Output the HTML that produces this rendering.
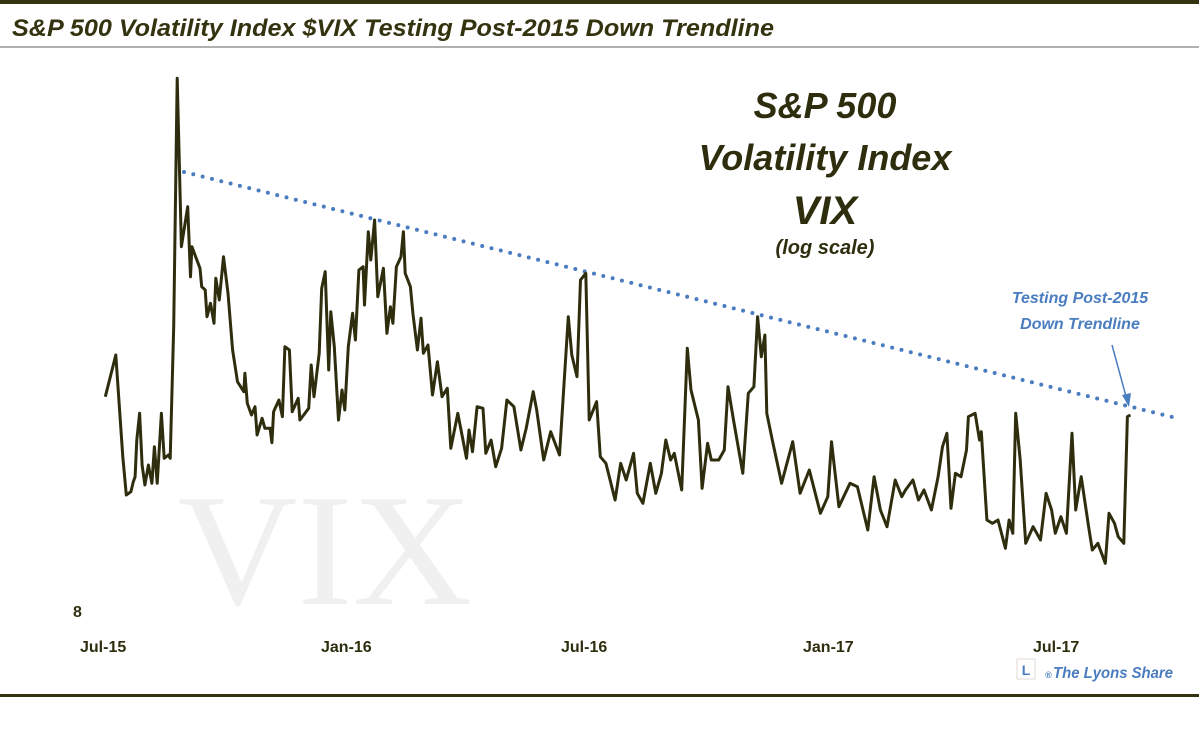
<!DOCTYPE html>
<html><head><meta charset="utf-8"><style>
html,body{margin:0;padding:0;background:#fff;}
svg{display:block;}
</style></head><body>
<svg id="s" width="1199" height="742" viewBox="0 0 1199 742" xmlns="http://www.w3.org/2000/svg" font-family="Liberation Sans, sans-serif">
<rect x="0" y="0" width="1199" height="742" fill="#fff"/>
<rect x="0" y="0" width="1199" height="4" fill="#33330f"/>
<text x="12" y="36" font-size="24" font-weight="bold" font-style="italic" fill="#33330f" textLength="762" lengthAdjust="spacingAndGlyphs">S&amp;P 500 Volatility Index $VIX Testing Post-2015 Down Trendline</text>
<rect x="0" y="46" width="1199" height="2" fill="#b0b0b0"/>
<text x="325" y="604" style="font-family:'Liberation Serif',serif" font-size="160" fill="#f0f0f0" text-anchor="middle" textLength="295" lengthAdjust="spacingAndGlyphs">VIX</text>
<g font-weight="bold" font-style="italic" fill="#2e2e0e" text-anchor="middle">
<text x="825" y="118" font-size="36">S&amp;P 500</text>
<text x="825" y="170" font-size="36">Volatility Index</text>
<text x="825" y="224" font-size="40">VIX</text>
<text x="825" y="254" font-size="20">(log scale)</text>
</g>
<g font-weight="bold" font-style="italic" fill="#4a7cc0" text-anchor="middle" font-size="16">
<text x="1080" y="303">Testing Post-2015</text>
<text x="1080" y="329">Down Trendline</text>
</g>
<line x1="1112" y1="345" x2="1127" y2="400" stroke="#4a7cc0" stroke-width="1.5"/>
<polygon points="1129,407 1122,395 1131,393" fill="#4a7cc0"/>
<line x1="184" y1="172" x2="1176" y2="418" stroke="#4a7cc0" stroke-width="4" stroke-linecap="round" stroke-dasharray="0 9.6"/>
<polyline id="vix" fill="none" stroke="#2e2e0e" stroke-width="3" stroke-linejoin="round" points=""/>
<g font-weight="bold" fill="#2e2e0e" font-size="16">
<text x="73" y="617">8</text>
<text x="80" y="652">Jul-15</text>
<text x="321" y="652">Jan-16</text>
<text x="561" y="652">Jul-16</text>
<text x="803" y="652">Jan-17</text>
<text x="1033" y="652">Jul-17</text>
</g>
<rect x="1017" y="659" width="18" height="20" fill="#fff" stroke="#e0d8d0" stroke-width="1"/>
<text x="1026" y="675" font-size="14" font-weight="bold" fill="#4a7cc0" text-anchor="middle">L</text>
<text x="1045" y="678" font-size="9" font-weight="bold" font-style="italic" fill="#4a7cc0">®</text>
<text x="1053" y="678" font-size="16" font-weight="bold" font-style="italic" fill="#4a7cc0" textLength="120" lengthAdjust="spacingAndGlyphs">The Lyons Share</text>
<rect x="0" y="694" width="1199" height="3" fill="#33330f"/>
</svg>
<script>
var z2=[[15,1010],[45,885],[65,1190],[75,1305],[88,1295],[95,1265],[100,1250],[105,1140],[113,1060],[120,1215],[128,1275],[138,1215],[148,1270],[155,1160],[163,1270],[175,1060],[183,1195],[195,1185],[200,1195],[210,800],[220,55],[232,560],[250,440],[258,650],[262,560],[285,625],[290,680],[300,690],[305,770],[315,730],[325,790],[330,655],[340,720],[352,590],[365,700],[378,870],[392,965],[410,995],[413,940],[420,1030],[432,1065],[442,1040],[448,1125],[462,1075],[470,1105],[485,1105],[490,1148],[495,1055],[510,1020],[520,1070],[527,860],[540,870],[548,1055],[565,1015],[570,1080],[595,1045],[602,915],[610,1010],[625,880],[632,685],[642,635],[652,930],[658,755],[668,860],[680,1080],[690,990],[698,1050],[708,860],[720,760],[728,840],[738,630],[750,620],[754,735],[765,515],[772,600],[783,480],[792,710],[808,625],[818,820],[828,740],[835,790],[845,620],[858,590],[865,515],[870,640],[885,680],[892,760],[905,870],[915,775],[922,880],[935,855],[948,1005],[962,905],[975,1010],[990,985],[1000,1165],[1020,1060],[1045,1195],[1052,1110],[1062,1175],[1075,1040],[1092,1045],[1100,1180],[1115,1140],[1128,1220],[1145,1165],[1160,1020],[1180,1040],[1200,1170],[1215,1105],[1235,995],[1245,1050],[1265,1200],[1285,1115],[1310,1185],[1335,770],[1345,885],[1360,950],[1370,660],[1385,640]];
var z3=[[25,480],[45,425],[55,590],[70,610],[95,720],[110,610],[125,660],[145,580],[155,700],[170,730],[190,610],[205,700],[220,640],[232,540],[245,600],[255,580],[275,690],[290,265],[300,390],[320,480],[330,685],[345,550],[355,600],[375,600],[390,570],[400,380],[415,480],[440,640],[455,400],[470,380],[480,170],[490,290],[500,225],[505,460],[520,540],[545,670],[575,545],[595,700],[620,630],[650,760],[670,710],[680,545],[700,740],[730,670],[750,680],[778,810],[795,650],[812,750],[830,800],[852,660],[870,710],[880,690],[900,660],[915,720],[930,690],[950,750],[968,650],[980,560],[992,520],[1003,745],[1015,640],[1030,650],[1045,570],[1050,470],[1068,460],[1080,540],[1085,515],[1100,780],[1115,790],[1130,780],[1150,865],[1160,780],[1170,820],[1178,460],[1190,600],[1205,850],[1225,800],[1245,840],[1260,700],[1275,750],[1285,820],[1300,770],[1315,820],[1330,520],[1340,750],[1355,650],[1375,800],[1385,870],[1400,850],[1410,880],[1420,910],[1430,760],[1445,790],[1455,830],[1470,850],[1480,470],[1488,465]];
var p=[],k2=550/1568,k3=580/1568;
z2.forEach(function(a){p.push((100+a[0]*k2).toFixed(1)+","+(60+a[1]/3).toFixed(1));});
z3.forEach(function(a){p.push((580+a[0]*k3).toFixed(1)+","+(260+a[1]/3).toFixed(1));});
document.getElementById("vix").setAttribute("points",p.join(" "));
</script>
</body></html>
